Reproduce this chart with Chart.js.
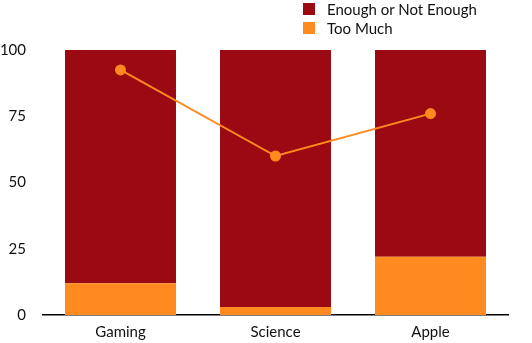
<!DOCTYPE html>
<html>
<head>
<meta charset="utf-8">
<script src="https://cdn.jsdelivr.net/npm/chart.js@4"></script>
<style>
  html, body { margin: 0; padding: 0; background: #fff; }
  #wrap { position: relative; width: 532px; height: 343px; }
  #legend { position: absolute; left: 303px; top: -1px; font-family: Lato, sans-serif; font-size: 15px; color: #111; }
  #legend .item { display: flex; align-items: center; height: 19px; }
  #legend .box { width: 12px; height: 12px; margin-right: 12px; }
</style>
</head>
<body>
<div id="wrap">
  <canvas id="chart" width="532" height="343"></canvas>
  <div id="legend"></div>
</div>
<script>
const categories = ['Gaming', 'Science', 'Apple'];
const enoughOrNot = [88, 97, 78];
const tooMuch = [12, 3, 22];
const lineValues = [92.5, 60, 76];

const RED = '#9b0a13';
const ORANGE = '#ff8a20';

// legend built from the bar datasets, stacked vertically in the top right
const htmlLegend = {
  id: 'htmlLegend',
  afterUpdate(chart) {
    const el = document.getElementById('legend');
    el.innerHTML = '';
    chart.data.datasets.filter(ds => ds.type === 'bar').forEach(ds => {
      const item = document.createElement('div');
      item.className = 'item';
      const box = document.createElement('span');
      box.className = 'box';
      box.style.background = ds.backgroundColor;
      const txt = document.createElement('span');
      txt.textContent = ds.label;
      item.appendChild(box);
      item.appendChild(txt);
      el.appendChild(item);
    });
  }
};

new Chart('chart', {
  data: {
    labels: categories,
    datasets: [
      {
        type: 'bar',
        label: 'Enough or Not Enough',
        data: enoughOrNot,
        backgroundColor: RED,
        stack: 'bars',
        order: 2,
        categoryPercentage: 1,
        barPercentage: 0.716,
      },
      {
        type: 'bar',
        label: 'Too Much',
        data: tooMuch,
        backgroundColor: ORANGE,
        stack: 'bars',
        order: 1,
        categoryPercentage: 1,
        barPercentage: 0.716,
      },
      {
        type: 'line',
        label: 'Share',
        data: lineValues,
        borderColor: ORANGE,
        backgroundColor: ORANGE,
        borderWidth: 2,
        pointRadius: 4.5,
        pointHoverRadius: 4.5,
        stack: 'line',
        order: 0,
      },
    ],
  },
  options: {
    responsive: false,
    animation: false,
    layout: { padding: { top: 50, right: 24, left: 0, bottom: 0 } },
    plugins: {
      legend: { display: false },
      tooltip: { enabled: false },
    },
    scales: {
      x: {
        stacked: true,
        afterFit: (axis) => { axis.height = 28; },
        grid: { display: false },
        border: { display: true, color: '#000', width: 1.5 },
        ticks: { color: '#111', padding: 0, font: { family: 'Lato', size: 15 } },
      },
      y: {
        stacked: true,
        min: 0,
        max: 100,
        afterFit: (axis) => { axis.width = 43; },
        grid: { display: false },
        border: { display: false },
        ticks: {
          stepSize: 25,
          color: '#111',
          padding: 9,
          font: { family: 'Lato', size: 15 },
        },
      },
    },
  },
  plugins: [htmlLegend],
});
</script>
</body>
</html>
